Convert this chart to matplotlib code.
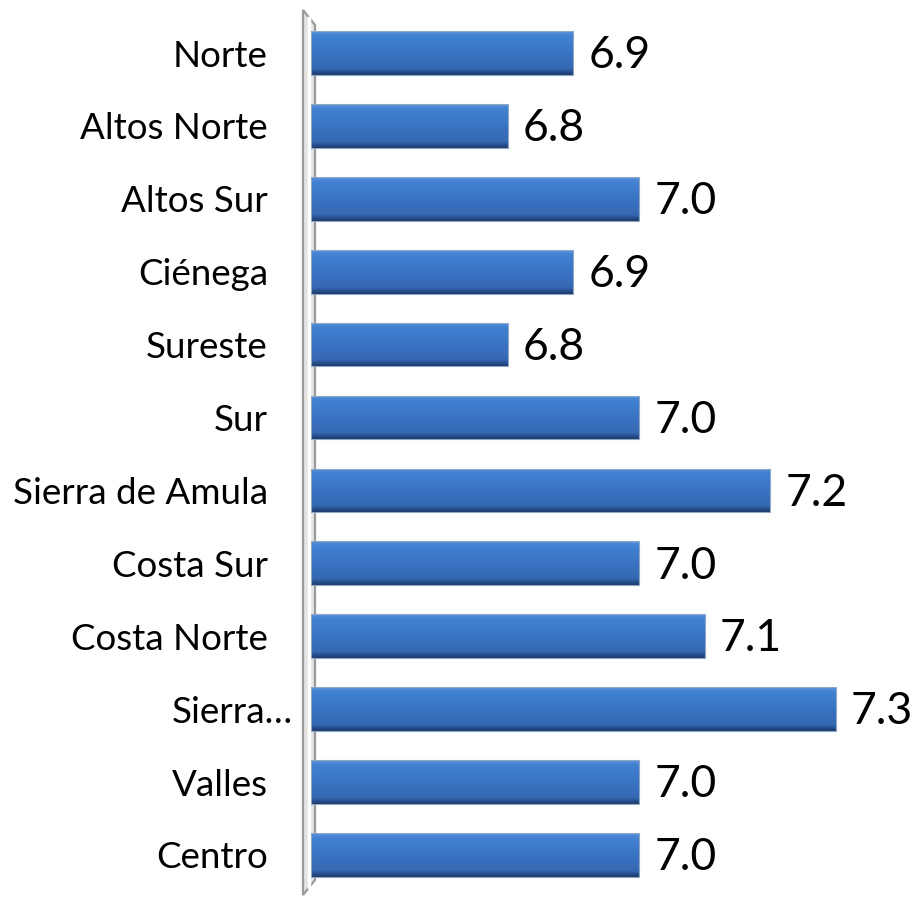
import numpy as np
import matplotlib
matplotlib.use("Agg")
import matplotlib.pyplot as plt
from matplotlib.patches import Polygon
from matplotlib.transforms import ScaledTranslation
from matplotlib.colors import LinearSegmentedColormap

# data (top to bottom as in the chart)
regions = ["Norte", "Altos Norte", "Altos Sur", "Ciénega", "Sureste", "Sur",
           "Sierra de Amula", "Costa Sur", "Costa Norte", "Sierra…", "Valles", "Centro"]
values = [6.9, 6.8, 7.0, 6.9, 6.8, 7.0, 7.2, 7.0, 7.1, 7.3, 7.0, 7.0]
x_min = 6.5

plt.rcParams['font.family'] = ['Lato', 'DejaVu Sans']

W, H = 914, 897
fig = plt.figure(figsize=(W / 100, H / 100), dpi=100)
ax = fig.add_axes([311 / W, 2 / H, 603 / W, 885 / H])
ax.set_zorder(2)
ax.patch.set_visible(False)

# 3D-looking axis wall behind the bars
wall = Polygon([(303 / W, 1 - 10 / H), (315 / W, 1 - 25 / H),
                (315 / W, 1 - 880 / H), (303 / W, 1 - 895 / H)],
               closed=True, transform=fig.transFigure,
               facecolor="#e4e4e4", edgecolor="#9a9a9a", linewidth=1.6, zorder=0)
fig.patches.append(wall)
fig.add_artist(plt.Line2D([309 / W, 309 / W], [1 - 18 / H, 1 - 887 / H],
                          transform=fig.transFigure, color="#ffffff", lw=2.5, zorder=1))

y = np.arange(len(regions))
bar_h = 0.6
cmap = LinearSegmentedColormap.from_list(
    "bar", [(0.0, "#1c3b6b"), (0.08, "#2a5497"), (0.14, "#3568b2"),
            (0.5, "#3a73c3"), (0.9, "#4182d3"), (1.0, "#5a93da")])
grad = np.linspace(0, 1, 64).reshape(-1, 1)

bars = ax.barh(y, [v - x_min for v in values], left=x_min, height=bar_h,
               color="none", edgecolor="#8fa6c4", linewidth=0.8, zorder=3)
for rect, v in zip(bars, values):
    x0, y0 = rect.get_x(), rect.get_y()
    w, h = rect.get_width(), rect.get_height()
    im = ax.imshow(grad, cmap=cmap, aspect="auto", origin="lower",
                   extent=[x0, x0 + w, y0 + h, y0], zorder=2)
    im.set_clip_path(rect)
    ax.annotate(f"{v:.1f}", xy=(v, rect.get_y() + h / 2), xytext=(11, -2),
                textcoords="offset points", ha="left", va="center", fontsize=32,
                color="black")

ax.set_xlim(x_min, x_min + 603 / 656)
ax.set_ylim(len(regions) - 1 + 0.55, -0.59)
ax.set_yticks(y)
ax.set_yticklabels(regions, fontsize=26.5)
ax.tick_params(axis="y", length=0, pad=31)
ax.set_xticks([])
for s in ax.spines.values():
    s.set_visible(False)

lbl = ax.get_yticklabels()[regions.index("Sierra…")]
lbl.set_transform(lbl.get_transform() + ScaledTranslation(0.25, 0, fig.dpi_scale_trans))

fig.savefig("out.png", dpi=100)
